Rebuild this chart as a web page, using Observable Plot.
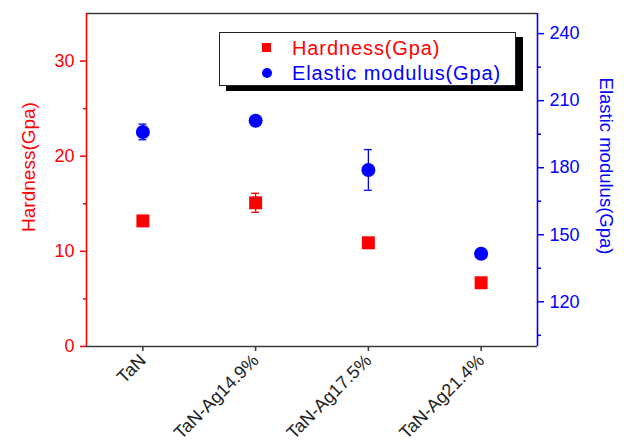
<!DOCTYPE html>
<html><head><meta charset="utf-8">
<script src="https://cdn.jsdelivr.net/npm/d3@7"></script>
<script src="https://cdn.jsdelivr.net/npm/@observablehq/plot@0.6"></script>
<style>
html,body{margin:0;padding:0;background:#fff;}
#wrap{position:relative;width:624px;height:448px;font-family:"Liberation Sans",Arial,Helvetica,sans-serif;}
#wrap svg{position:absolute;left:0;top:0;}
#legend{position:absolute;left:219px;top:32px;width:295px;height:52px;border:1.5px solid #222;background:#fff;box-shadow:7px 5px 0 #000;}
.lg-item{position:absolute;left:72px;font-size:20px;line-height:20px;letter-spacing:0.9px;white-space:nowrap;}
.lg-sym{position:absolute;}
</style></head><body><div id="wrap"></div>
<script>
const categories = ["TaN", "TaN-Ag14.9%", "TaN-Ag17.5%", "TaN-Ag21.4%"];
const hardness = [13.2, 15.1, 10.9, 6.7];
const hardnessErr = [0.5, 1.0, 0.4, 0.3];
const modulus = [196, 201, 179, 141.5];
const modulusErr = [3.5, 1.5, 9.1, 1.0];
const hardnessTicks = [0, 10, 20, 30];
const hardnessMinorTicks = [5, 15, 25];
const modulusTicks = [120, 150, 180, 210, 240];
const modulusMinorTicks = [105, 135, 165, 195, 225];
const hardnessDomain = [0, 35];
const modulusDomain = [100, 249];
const hardnessTitle = "Hardness(Gpa)";
const modulusTitle = "Elastic modulus(Gpa)";

const RED = "#ff0000", BLUE = "#0000ff", DARK = "#3a3a3a";
const xDomain = [0.5, categories.length + 0.5];
const rows = categories.map((c, i) => ({pos: i + 1, cat: c, h: hardness[i], he: hardnessErr[i], e: modulus[i], ee: modulusErr[i]}));
const capHalf = 0.035;
const FONT = "'Liberation Sans', Arial, Helvetica, sans-serif";

const common = {
  width: 624, height: 448,
  marginLeft: 86, marginRight: 87, marginTop: 13, marginBottom: 102,
  style: {background: "transparent", fontFamily: FONT, overflow: "visible"}
};

const p1 = Plot.plot({
  ...common,
  x: {type: "linear", domain: xDomain, label: null},
  y: {domain: hardnessDomain, label: null},
  marks: [
    Plot.ruleY(hardnessDomain, {stroke: DARK, strokeWidth: 1.6}),
    Plot.ruleX([xDomain[0]], {stroke: RED, strokeWidth: 1.6}),
    Plot.axisX({ticks: rows.map(d => d.pos), tickFormat: i => categories[i - 1], tickRotate: -45, tickSize: 5, tickPadding: 6, stroke: DARK, fill: "#222", fontSize: 18, strokeWidth: 1.5, label: null}),
    Plot.axisY({ticks: hardnessTicks, tickSize: 6, tickPadding: 6, stroke: RED, fill: RED, fontSize: 18, strokeWidth: 1.5, label: null}),
    Plot.axisY({ticks: hardnessMinorTicks, tickSize: 3, tickFormat: () => "", stroke: RED, strokeWidth: 1.5, label: null}),
    Plot.ruleX(rows, {x: "pos", y1: d => d.h - d.he, y2: d => d.h + d.he, stroke: RED, strokeWidth: 1.3}),
    Plot.ruleY(rows, {y: d => d.h + d.he, x1: d => d.pos - capHalf, x2: d => d.pos + capHalf, stroke: RED, strokeWidth: 1.3}),
    Plot.ruleY(rows, {y: d => d.h - d.he, x1: d => d.pos - capHalf, x2: d => d.pos + capHalf, stroke: RED, strokeWidth: 1.3}),
    Plot.dot(rows, {x: "pos", y: "h", symbol: "square", r: 7.3, fill: RED, stroke: "none"}),
    Plot.text([hardnessTitle], {text: d => d, frameAnchor: "left", textAnchor: "middle", dx: -58, dy: -13, rotate: -90, fill: RED, fontSize: 19})
  ]
});

const p2 = Plot.plot({
  ...common,
  x: {type: "linear", domain: xDomain, label: null, axis: null},
  y: {domain: modulusDomain, label: null},
  marks: [
    Plot.ruleX([xDomain[1]], {stroke: BLUE, strokeWidth: 1.6}),
    Plot.axisY({anchor: "right", ticks: modulusTicks, tickSize: 6, tickPadding: 6, stroke: BLUE, fill: BLUE, fontSize: 18, strokeWidth: 1.5, label: null}),
    Plot.axisY({anchor: "right", ticks: modulusMinorTicks, tickSize: 3, tickFormat: () => "", stroke: BLUE, strokeWidth: 1.5, label: null}),
    Plot.ruleX(rows, {x: "pos", y1: d => d.e - d.ee, y2: d => d.e + d.ee, stroke: BLUE, strokeWidth: 1.3}),
    Plot.ruleY(rows, {y: d => d.e + d.ee, x1: d => d.pos - capHalf, x2: d => d.pos + capHalf, stroke: BLUE, strokeWidth: 1.3}),
    Plot.ruleY(rows, {y: d => d.e - d.ee, x1: d => d.pos - capHalf, x2: d => d.pos + capHalf, stroke: BLUE, strokeWidth: 1.3}),
    Plot.dot(rows, {x: "pos", y: "e", symbol: "circle", r: 7, fill: BLUE, stroke: "none"}),
    Plot.text([modulusTitle], {text: d => d, frameAnchor: "right", textAnchor: "middle", dx: 68, dy: -14, rotate: 90, fill: BLUE, fontSize: 18.5})
  ]
});

const wrap = document.getElementById("wrap");
wrap.appendChild(p1);
wrap.appendChild(p2);

const legend = document.createElement("div");
legend.id = "legend";
legend.innerHTML = `
  <div class="lg-sym" style="left:42px;top:10px;width:9px;height:9px;background:${RED}"></div>
  <div class="lg-item" style="top:5px;color:${RED}">${hardnessTitle}</div>
  <div class="lg-sym" style="left:42px;top:35px;width:10px;height:10px;border-radius:50%;background:${BLUE}"></div>
  <div class="lg-item" style="top:30px;color:${BLUE}">${modulusTitle}</div>`;
wrap.appendChild(legend);
</script>
</body></html>
